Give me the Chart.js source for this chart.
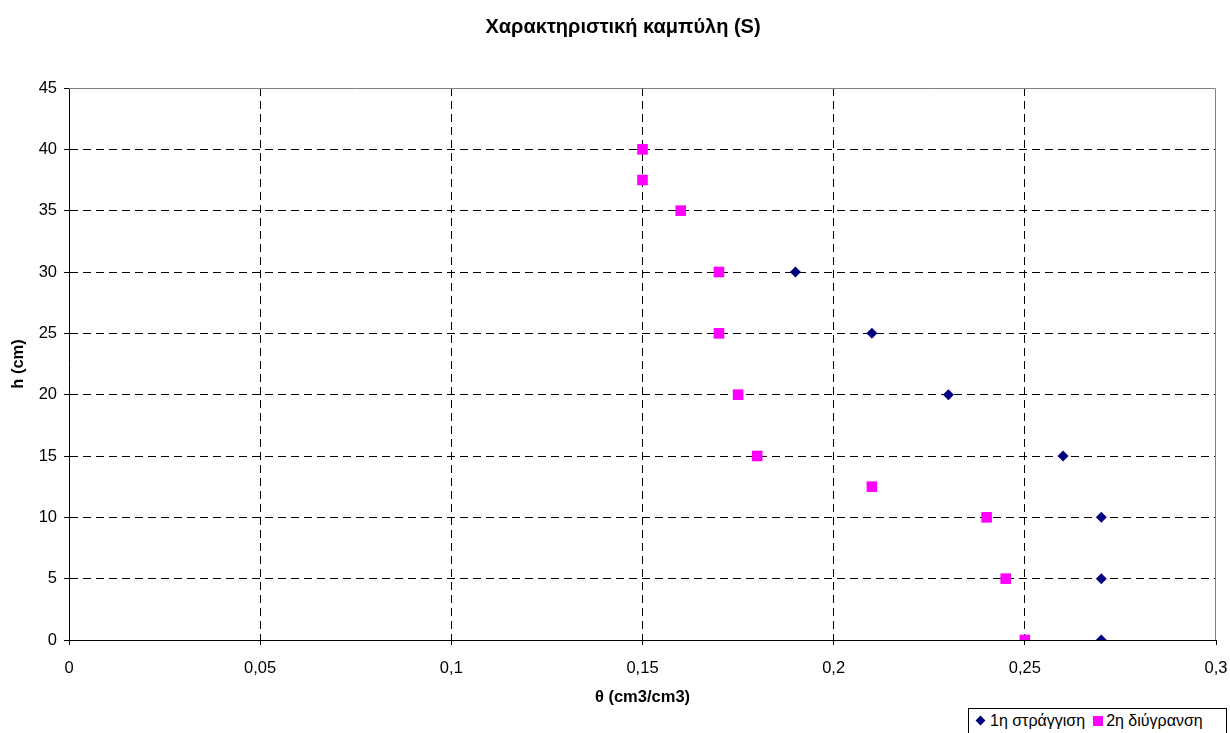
<!DOCTYPE html>
<html>
<head>
<meta charset="utf-8">
<script src="https://cdn.jsdelivr.net/npm/chart.js@4/dist/chart.umd.min.js"></script>
<style>
  body { margin: 0; background: #fff; overflow: hidden; }
  #wrap { position: relative; width: 1230px; height: 733px; overflow: hidden; }
  #legend {
    position: absolute; left: 968px; top: 708px; width: 259px; height: 32px;
    border: 1px solid #000; background: #fff;
    font: 16px "Liberation Sans", Arial, sans-serif; color: #000;
    padding: 2px 0 0 7px; box-sizing: border-box; white-space: nowrap; line-height: 20px;
  }
  .ic { display: inline-block; vertical-align: middle; position: relative; top: -1px; }
  .dia { background: #000080; transform: rotate(45deg); width: 7px; height: 7px; margin: 0 6px 0 1px; }
  .sq { background: #ff00ff; width: 10px; height: 10px; margin: 0 3px 0 8px; }
</style>
</head>
<body>
<div id="wrap">
  <canvas id="chart" width="1230" height="733"></canvas>
  <div id="legend"><span class="ic dia"></span>1η στράγγιση<span class="ic sq"></span>2η διύγρανση</div>
</div>
<script>
const drainTheta = [0.19, 0.21, 0.23, 0.26, 0.27, 0.27, 0.27];
const drainH = [30, 25, 20, 15, 10, 5, 0];
const wetTheta = [0.15, 0.15, 0.16, 0.17, 0.17, 0.175, 0.18, 0.21, 0.24, 0.245, 0.25];
const wetH = [40, 37.5, 35, 30, 25, 20, 15, 12.5, 10, 5, 0];
const seriesNames = ["1η στράγγιση", "2η διύγρανση"];
const chartTitle = "Χαρακτηριστική καμπύλη (S)";

const toPoints = (xs, ys) => xs.map((x, i) => ({ x, y: ys[i] }));
const fmt = v => String(Math.round(v * 1000) / 1000).replace(".", ",");
const font = "'Liberation Sans', Arial, sans-serif";

// gray frame on top and right like the Excel plot area, plus the title text
const frame = {
  id: "frame",
  beforeDatasetsDraw(chart) {
    const { ctx, chartArea: a } = chart;
    ctx.save();
    ctx.strokeStyle = "#808080";
    ctx.lineWidth = 1;
    ctx.beginPath();
    ctx.moveTo(a.left, a.top + 0.5);
    ctx.lineTo(a.right - 0.5, a.top + 0.5);
    ctx.lineTo(a.right - 0.5, a.bottom);
    ctx.stroke();
    ctx.fillStyle = "#000";
    ctx.font = "bold 20px " + font;
    ctx.textAlign = "center";
    ctx.textBaseline = "middle";
    ctx.fillText(chartTitle, 623, 27);
    ctx.restore();
  }
};

new Chart(document.getElementById("chart"), {
  type: "scatter",
  data: {
    datasets: [
      {
        label: seriesNames[0],
        data: toPoints(drainTheta, drainH),
        pointStyle: "rectRot",
        radius: 5.5,
        backgroundColor: "#000080",
        borderColor: "#000080",
        borderWidth: 0
      },
      {
        label: seriesNames[1],
        data: toPoints(wetTheta, wetH),
        pointStyle: "rect",
        radius: 7.5,
        backgroundColor: "#ff00ff",
        borderColor: "#ff00ff",
        borderWidth: 0
      }
    ]
  },
  options: {
    responsive: false,
    animation: false,
    layout: { padding: { left: 0, right: 14, top: 0, bottom: 0 } },
    plugins: {
      legend: { display: false },
      tooltip: { enabled: false },
      title: {
        // keeps the space above the plot; visible text is drawn by the plugin
        display: true,
        text: chartTitle,
        color: "rgba(0,0,0,0)",
        font: { family: font, size: 20, weight: "bold" },
        padding: { top: 15, bottom: 49 }
      }
    },
    scales: {
      x: {
        type: "linear",
        min: 0,
        max: 0.3,
        ticks: {
          stepSize: 0.05,
          color: "#000",
          font: { family: font, size: 16.5 },
          padding: 14,
          callback: v => fmt(v)
        },
        grid: {
          color: c => (c.tick.value === 0 || c.tick.value >= 0.3) ? "rgba(0,0,0,0)" : "#000",
          tickLength: 5,
          tickColor: "#000",
          drawTicks: true
        },
        border: { display: true, color: "#000", width: 1, dash: [8, 5] },
        title: {
          display: true,
          text: "θ (cm3/cm3)",
          color: "#000",
          font: { family: font, size: 16.5, weight: "bold" },
          padding: { top: 0, bottom: 26 }
        },
        afterFit: s => { s.height = 93; s.paddingLeft = 0; s.paddingRight = 0; }
      },
      y: {
        type: "linear",
        min: 0,
        max: 45,
        ticks: {
          stepSize: 5,
          color: "#000",
          font: { family: font, size: 16.5 },
          padding: 7,
          callback: v => fmt(v)
        },
        grid: {
          color: c => (c.tick.value === 0 || c.tick.value >= 45) ? "rgba(0,0,0,0)" : "#000",
          tickLength: 5,
          tickColor: "#000",
          drawTicks: true
        },
        border: { display: true, color: "#000", width: 1, dash: [8, 5] },
        title: {
          display: true,
          text: "h (cm)",
          color: "#000",
          font: { family: font, size: 16.5, weight: "bold" },
          padding: { top: 9, bottom: 0 }
        },
        afterFit: s => { s.width = 69; }
      }
    }
  },
  plugins: [frame]
});
</script>
</body>
</html>
